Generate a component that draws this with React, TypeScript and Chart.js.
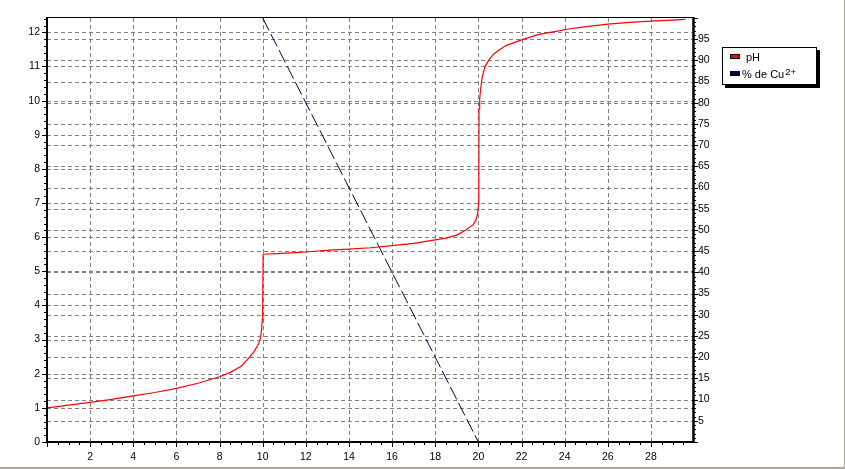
import React, { useEffect, useRef } from "react";
import { Chart, registerables } from "chart.js";

Chart.register(...registerables);

// ---- data ----
const phX = [0, 1, 2, 3, 4, 5, 6, 7, 8, 8.5, 9, 9.3, 9.6, 9.8, 9.9, 9.95, 9.98, 10.0, 10.02, 10.7, 11.5, 12.3, 13.1, 14, 15, 16, 17, 18, 18.5, 19, 19.4, 19.75, 19.9, 19.97, 20.0, 20.02, 20.03, 20.06, 20.1, 20.17, 20.3, 20.5, 20.7, 21.0, 21.3, 22.0, 22.8, 23.6, 24.1, 25, 26, 27, 28, 29, 29.6];
const phY = [1.0, 1.08, 1.16, 1.25, 1.35, 1.45, 1.57, 1.72, 1.91, 2.04, 2.22, 2.42, 2.65, 2.86, 3.05, 3.3, 3.6, 3.95, 5.5, 5.52, 5.55, 5.58, 5.62, 5.65, 5.69, 5.75, 5.82, 5.92, 5.97, 6.06, 6.2, 6.36, 6.52, 6.7, 6.95, 7.5, 9.77, 10.05, 10.31, 10.65, 10.99, 11.2, 11.36, 11.5, 11.62, 11.78, 11.94, 12.03, 12.09, 12.17, 12.24, 12.29, 12.33, 12.36, 12.38];
const cuX = [10, 20];
const cuY = [100, 0];

const xTicksStep = 2;
const yLeftStep = 1;
const yRightStep = 5;
const legendLabels = ["pH", "% de Cu", "2+"];

const X_MAX = 29.95;
const Y_MAX = 12.42;
const Y2_MAX = 100;

const FONT = { family: "Arial, 'Liberation Sans', sans-serif", size: 10.5 };

const framePlugin = {
  id: "framePlugin",
  beforeDatasetsDraw(chart: any) {
    const { ctx, chartArea: a, scales } = chart;
    const x = scales.x, y = scales.y, y2 = scales.y2;
    ctx.save();
    ctx.strokeStyle = "#808080";
    ctx.lineWidth = 1;
    ctx.setLineDash([4, 3]);
    for (let v = xTicksStep; v < X_MAX; v += xTicksStep) {
      const px = Math.round(x.getPixelForValue(v)) + 0.5;
      ctx.beginPath(); ctx.moveTo(px, a.top); ctx.lineTo(px, a.bottom); ctx.stroke();
    }
    for (let v = yLeftStep; v <= 12; v += yLeftStep) {
      const py = Math.round(y.getPixelForValue(v)) + 0.5;
      ctx.beginPath(); ctx.moveTo(a.left, py); ctx.lineTo(a.right, py); ctx.stroke();
    }
    for (let v = yRightStep; v < Y2_MAX; v += yRightStep) {
      const py = Math.round(y2.getPixelForValue(v)) + 0.5;
      ctx.beginPath(); ctx.moveTo(a.left, py); ctx.lineTo(a.right, py); ctx.stroke();
    }
    ctx.restore();
  },
  afterDraw(chart: any) {
    const { ctx, chartArea: a, scales } = chart;
    const x = scales.x, y = scales.y, y2 = scales.y2;
    ctx.save();
    ctx.setLineDash([]);
    ctx.strokeStyle = "#000";
    // ticks
    ctx.lineWidth = 1;
    for (let i = 0; i <= Math.floor(X_MAX * 2); i++) {
      const v = i / 2;
      const px = Math.round(x.getPixelForValue(v)) + 0.5;
      const len = i % 4 === 0 ? 5 : 3;
      ctx.beginPath(); ctx.moveTo(px, a.bottom); ctx.lineTo(px, a.bottom + len); ctx.stroke();
    }
    for (let i = 0; i <= Math.floor(Y_MAX * 5); i++) {
      const v = i / 5;
      const py = Math.round(y.getPixelForValue(v)) + 0.5;
      const len = i % 5 === 0 ? 5 : 3;
      ctx.beginPath(); ctx.moveTo(a.left - len, py); ctx.lineTo(a.left, py); ctx.stroke();
    }
    for (let i = 0; i <= Y2_MAX; i++) {
      const py = Math.round(y2.getPixelForValue(i)) + 0.5;
      const len = i % 5 === 0 ? 5 : 3;
      ctx.beginPath(); ctx.moveTo(a.right, py); ctx.lineTo(a.right + len, py); ctx.stroke();
    }
    // frame
    ctx.lineWidth = 1;
    ctx.beginPath(); ctx.moveTo(a.left, a.top - 0.5); ctx.lineTo(a.right, a.top - 0.5); ctx.stroke();
    ctx.lineWidth = 2;
    ctx.beginPath(); ctx.moveTo(a.left, a.top - 1); ctx.lineTo(a.left, a.bottom + 1); ctx.stroke();
    ctx.beginPath(); ctx.moveTo(a.left - 1, a.bottom); ctx.lineTo(a.right + 1, a.bottom); ctx.stroke();
    ctx.lineWidth = 2.5;
    ctx.beginPath(); ctx.moveTo(a.right + 0.5, a.top - 1); ctx.lineTo(a.right + 0.5, a.bottom + 1); ctx.stroke();

    // legend
    const lx = 722, ly = 47, lw = 95, lh = 38;
    ctx.fillStyle = "#000";
    ctx.fillRect(lx + 3, ly + 3, lw, lh);
    ctx.fillStyle = "#fff";
    ctx.fillRect(lx, ly, lw, lh);
    ctx.lineWidth = 1;
    ctx.strokeStyle = "#000";
    ctx.strokeRect(lx + 0.5, ly + 0.5, lw - 1, lh - 1);

    ctx.fillStyle = "#ff0000";
    ctx.fillRect(730, 54, 10, 5);
    ctx.strokeRect(730.5, 54.5, 9, 4);
    ctx.fillStyle = "#000048";
    ctx.fillRect(730, 71, 10, 5);
    ctx.strokeRect(730.5, 71.5, 9, 4);

    ctx.fillStyle = "#000";
    ctx.textBaseline = "alphabetic";
    ctx.textAlign = "left";
    ctx.font = "11px Arial, 'Liberation Sans', sans-serif";
    ctx.fillText(legendLabels[0], 746, 61);
    ctx.fillText(legendLabels[1], 742, 78);
    const w = ctx.measureText(legendLabels[1]).width;
    ctx.font = "9.5px Arial, 'Liberation Sans', sans-serif";
    ctx.fillText(legendLabels[2], 742 + w + 1, 74.5);

    // window edge
    ctx.fillStyle = "#aca899";
    ctx.fillRect(0, 467, 845, 2);
    ctx.fillRect(844, 0, 1, 467);
    ctx.restore();
  },
};

export default function App() {
  const ref = useRef<HTMLCanvasElement>(null);
  useEffect(() => {
    if (!ref.current) return;
    const chart = new Chart(ref.current, {
      type: "line",
      data: {
        datasets: [
          {
            label: "pH",
            data: phX.map((v, i) => ({ x: v, y: phY[i] })),
            borderColor: "#ff0000",
            borderWidth: 1.2,
            pointRadius: 0,
            tension: 0,
            yAxisID: "y",
          },
          {
            label: "% de Cu2+",
            data: cuX.map((v, i) => ({ x: v, y: cuY[i] })),
            borderColor: "#000048",
            borderWidth: 1,
            borderDash: [14, 4],
            pointRadius: 0,
            tension: 0,
            yAxisID: "y2",
          },
        ],
      },
      options: {
        responsive: false,
        animation: false,
        events: [],
        layout: { padding: { top: 18, left: 0, right: 0, bottom: 0 } },
        plugins: { legend: { display: false }, tooltip: { enabled: false } },
        scales: {
          x: {
            type: "linear",
            min: 0,
            max: X_MAX,
            position: "bottom",
            grid: { display: false, drawTicks: false },
            border: { display: false },
            ticks: {
              stepSize: xTicksStep,
              includeBounds: false,
              autoSkip: false,
              maxRotation: 0,
              padding: 9,
              color: "#000",
              font: FONT,
              callback: (v: any) => (v === 0 ? "" : String(v)),
            },
            afterFit: (s: any) => { s.height = 27; s.paddingLeft = 0; s.paddingRight = 0; },
          },
          y: {
            type: "linear",
            min: 0,
            max: Y_MAX,
            position: "left",
            grid: { display: false, drawTicks: false },
            border: { display: false },
            ticks: {
              stepSize: yLeftStep,
              includeBounds: false,
              autoSkip: false,
              padding: 7,
              color: "#000",
              font: FONT,
            },
            afterFit: (s: any) => { s.width = 47; s.paddingTop = 0; s.paddingBottom = 0; },
          },
          y2: {
            type: "linear",
            min: 0,
            max: Y2_MAX,
            position: "right",
            grid: { display: false, drawTicks: false },
            border: { display: false },
            ticks: {
              stepSize: yRightStep,
              includeBounds: false,
              autoSkip: false,
              padding: 5,
              color: "#000",
              font: FONT,
              callback: (v: any) => (v === 0 || v === 100 ? "" : String(v)),
            },
            afterFit: (s: any) => { s.width = 152; s.paddingTop = 0; s.paddingBottom = 0; },
          },
        },
      },
      plugins: [framePlugin],
    });
    return () => chart.destroy();
  }, []);
  return (
    <div style={{ position: "absolute", left: 0, top: 0, width: 845, height: 469, background: "#fff" }}>
      <canvas ref={ref} width={845} height={469} style={{ display: "block" }} />
    </div>
  );
}
